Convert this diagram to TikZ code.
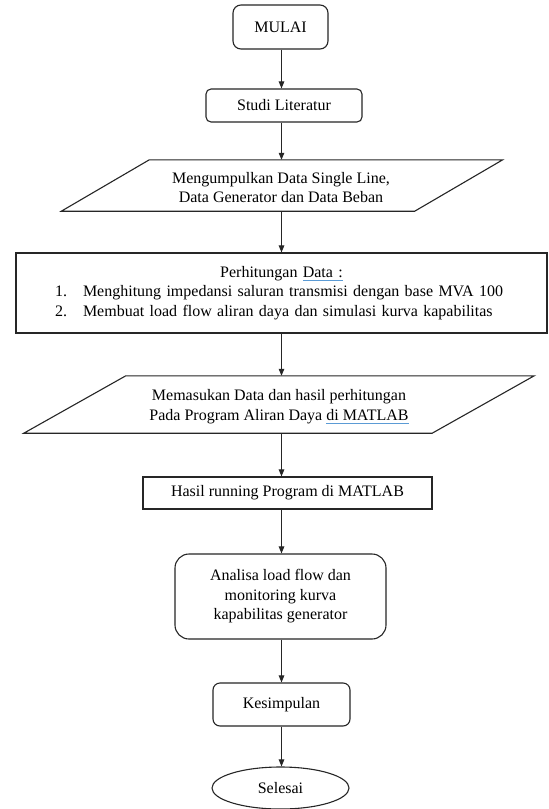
\documentclass[tikz,border=0pt]{standalone}
\usepackage{fontspec}
\setmainfont{Liberation Serif}
\usetikzlibrary{arrows.meta,shapes.geometric,calc}
\newcommand\blueul[1]{\setbox0\hbox{#1}\rlap{\textcolor[HTML]{5B9BD5}{\rule[-0.22em]{\wd0}{0.9pt}}}\box0}
\begin{document}
\begin{tikzpicture}[x=1pt,y=-1pt,
  font=\fontsize{16}{19.5}\selectfont,
  box/.style={draw=black!85, line width=1.1pt, fill=white, align=center, inner sep=0pt},
  para/.style={draw=black!85, line width=1.1pt, fill=white},
  ptext/.style={inner sep=0pt, align=center},
  arr/.style={draw=black!85, line width=1pt, -{Triangle[length=7pt,width=5.5pt]}}]
\fill[white] (0,0) rectangle (549,809);
\useasboundingbox (0,0) rectangle (549,809);
\coordinate (ax) at (281.5,0);

\node[box, rounded corners=8pt, minimum width=95pt, minimum height=44pt] (mulai) at (280.5,27) {MULAI};
\node[box, rounded corners=5pt, minimum width=156pt, minimum height=33pt] (studi) at (284,105.5) {Studi Literatur};

\node[ptext, minimum width=265pt, minimum height=51pt] (data) at (282,185.5) {};
\draw[para] (data.north west) -- ($(data.north east)+(88,0)$) -- (data.south east) -- ($(data.south west)+(-88,0)$) -- cycle;
\node[ptext] (datatext) at ($(data.center)+(-1,2)$) {Mengumpulkan Data Single Line,\\Data Generator dan Data Beban};

\node[box, minimum width=531pt, minimum height=80pt, text width=515pt] (calc) at (281.5,293)
 {Perhitungan \blueul{Data :}\\
  \makebox[515pt][l]{\hspace*{31pt}\makebox[28pt][l]{1.}Menghitung impedansi saluran transmisi dengan base MVA 100}\\
  \makebox[515pt][l]{\hspace*{31pt}\makebox[28pt][l]{2.}Membuat load flow aliran daya dan simulasi kurva kapabilitas}};

\node[ptext, minimum width=306pt, minimum height=57pt] (input) at (279,404.5) {};
\draw[para] (input.north west) -- ($(input.north east)+(102,0)$) -- (input.south east) -- ($(input.south west)+(-102,0)$) -- cycle;
\node[ptext] (inputtext) at ($(input.center)+(0,2)$) {Memasukan Data dan hasil perhitungan\\Pada Program Aliran Daya \blueul{di MATLAB}};

\node[box, minimum width=289pt, minimum height=32pt] (hasil) at (287.5,493) {Hasil running Program di MATLAB};
\node[box, rounded corners=14pt, minimum width=211pt, minimum height=85pt] (analisa) at (280.5,596.5)
 {Analisa load flow dan\\monitoring kurva\\kapabilitas generator};
\node[box, rounded corners=7pt, minimum width=137pt, minimum height=43pt] (kesimpulan) at (281.5,704.5) {Kesimpulan};
\node[box, ellipse, minimum width=137pt, minimum height=42pt] (selesai) at (280.5,788) {Selesai};

\draw[arr] (mulai.south -| ax) -- (studi.north -| ax);
\draw[arr] (studi.south -| ax) -- (data.north -| ax);
\draw[arr] (data.south -| ax) -- (calc.north -| ax);
\draw[arr] (calc.south -| ax) -- (input.north -| ax);
\draw[arr] (input.south -| ax) -- (hasil.north -| ax);
\draw[arr] (hasil.south -| ax) -- (analisa.north -| ax);
\draw[arr] (analisa.south -| ax) -- (kesimpulan.north -| ax);
\draw[arr] (kesimpulan.south -| ax) -- (selesai.north -| ax);
\end{tikzpicture}
\end{document}
